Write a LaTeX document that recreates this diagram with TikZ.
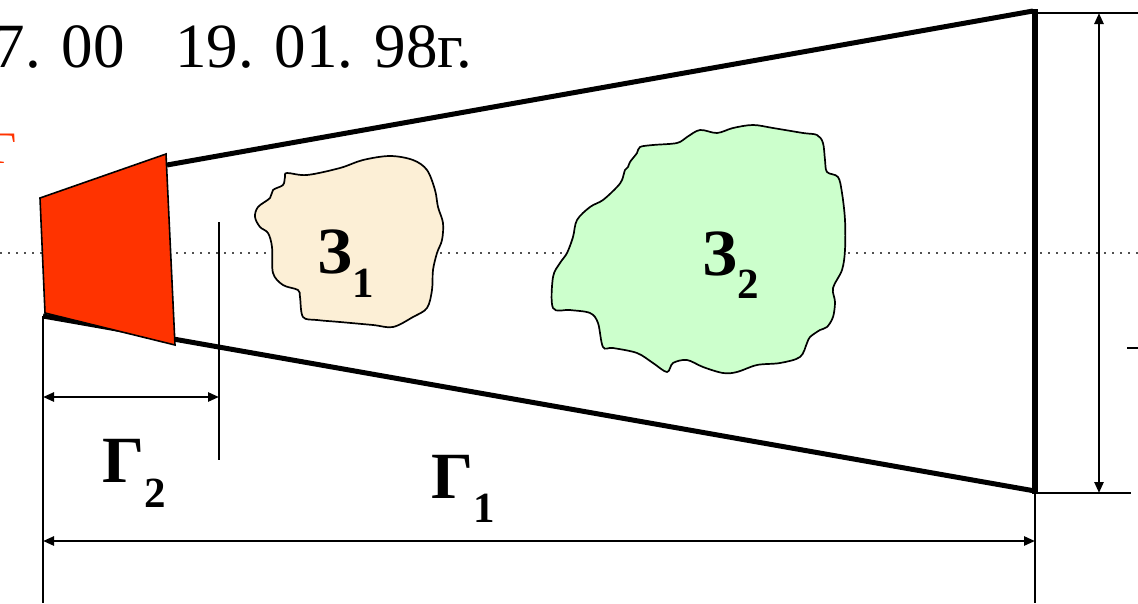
\documentclass[tikz,border=0pt]{standalone}
\usepackage{fontspec}
\setmainfont{Liberation Serif}
\usetikzlibrary{arrows.meta}
\definecolor{quadred}{HTML}{FF3300}
\definecolor{beige}{HTML}{FCEFD6}
\definecolor{lgreen}{HTML}{CCFFCC}
\definecolor{dotgray}{HTML}{505050}
\tikzset{
  thin line/.style={line width=2.5pt},
  thick line/.style={line width=5pt},
  dim/.style={line width=2.5pt, {Triangle[length=11pt,width=9pt]}-{Triangle[length=11pt,width=9pt]}},
  blob/.style={draw=black, line width=1.7pt},
  lbl/.style={inner sep=0pt, anchor=base west, font=\bfseries\fontsize{66}{66}\selectfont},
}
\newcommand{\lowsub}[2]{\raisebox{-#1pt}{\fontsize{43}{43}\selectfont\bfseries #2}}
\begin{document}
\begin{tikzpicture}[x=1pt,y=-1pt]
\useasboundingbox (0,0) rectangle (1138,603);
% dotted axis
\coordinate (axL) at (0,253);
\coordinate (axR) at (1138,253);
\draw[dotgray, line width=2.4pt, dash pattern=on 2.4pt off 5.6pt] (axL) -- (axR);

% header texts
\node[inner sep=0pt, anchor=base east, font=\fontsize{63}{63}\selectfont] (time) at (125,67) {7. 00};
\node[inner sep=0pt, anchor=base west, font=\fontsize{63}{63}\selectfont] (date) at (175,67) {19. 01. 98г.};
\node[inner sep=0pt, anchor=base east, text=quadred, font=\fontsize{45}{45}\selectfont] (redG) at (17,163) {Г};

% main coordinates
\coordinate (A) at (167,165);
\coordinate (B) at (1033,11);
\coordinate (C) at (43,316);
\coordinate (D) at (1035,491);
\coordinate (Vt) at (1035,9);
\coordinate (Vb) at (1035,494);

% blobs
\filldraw[blob, fill=beige] plot[smooth cycle, tension=0.55] coordinates {
(287,173) (307,175) (340,168) (363,160) (390,156) (413,160) (427,170) (435,190)
(438,207) (443,223) (442,240) (437,253) (433,270) (432,290) (427,308) (413,317)
(393,327) (373,325) (340,322) (317,320) (303,317) (300,297) (298,290) (283,285)
(273,273) (272,247) (268,233) (260,227) (255,217) (258,207) (270,198) (273,190)
(283,185) (285,177)};
\filldraw[blob, fill=lgreen] plot[smooth cycle, tension=0.55] coordinates {
(640,147) (653,145) (677,143) (687,137) (700,130) (717,133) (733,128) (753,125)
(773,128) (803,133) (817,135) (823,143) (825,160) (827,172) (838,177) (842,193)
(845,220) (845,250) (842,270) (833,288) (835,302) (833,317) (827,327) (820,330)
(810,337) (807,343) (800,357) (780,363) (757,365) (737,372) (723,373) (703,367)
(687,360) (673,363) (667,372) (653,363) (637,353) (613,348) (603,347) (598,323)
(590,313) (570,310) (553,308) (553,277) (560,263) (567,253) (573,237) (577,220)
(590,207) (603,200) (617,187) (622,180) (625,170) (628,167) (630,162) (637,153)};

% labels in blobs
\node[lbl] (Z1) at (317,273) {З\lowsub{24}{1}};
\node[lbl] (Z2) at (702,275) {З\lowsub{23}{2}};

% horn outline
\draw[thick line] (A) -- (B);
\draw[thick line] (C) -- (D);
\draw[line width=6pt] (Vt) -- (Vb);

% red source
\filldraw[fill=quadred, draw=black, line width=1.6pt]
  (40,198) -- (166,154) -- (175,345) -- (45,313) -- cycle;

% extension lines
\coordinate (E1a) at (1033,13);
\coordinate (E1b) at (1138,13);
\coordinate (E2a) at (1035,493);
\coordinate (E2b) at (1131,493);
\draw[thin line] (E1a) -- (E1b);
\draw[thin line] (E2a) -- (E2b);
\coordinate (Lx) at (43,316);
\coordinate (Lb) at (43,603);
\draw[thin line] (Lx) -- (Lb);
\coordinate (Rb) at (1035,603);
\draw[thin line] (E2a) -- (Rb);
\coordinate (Mt) at (219,222);
\coordinate (Mb) at (219,460);
\draw[thin line] (Mt) -- (Mb);

% dimension arrows
\coordinate (H1) at (1099,13);
\coordinate (H2) at (1099,493);
\draw[dim] (H1) -- (H2);
\coordinate (G1a) at (43,541);
\coordinate (G1b) at (1035,541);
\draw[dim] (G1a) -- (G1b);
\coordinate (G2a) at (43,397);
\coordinate (G2b) at (219,397);
\draw[dim] (G2a) -- (G2b);

% small dash at right edge
\coordinate (Da) at (1127,348);
\coordinate (Db) at (1138,348);
\draw[line width=2.5pt] (Da) -- (Db);

% dimension labels
\node[lbl] (L2) at (102,482) {Г\lowsub{25}{2}};
\node[lbl] (L1) at (431,498) {Г\lowsub{24}{1}};
\end{tikzpicture}
\end{document}
